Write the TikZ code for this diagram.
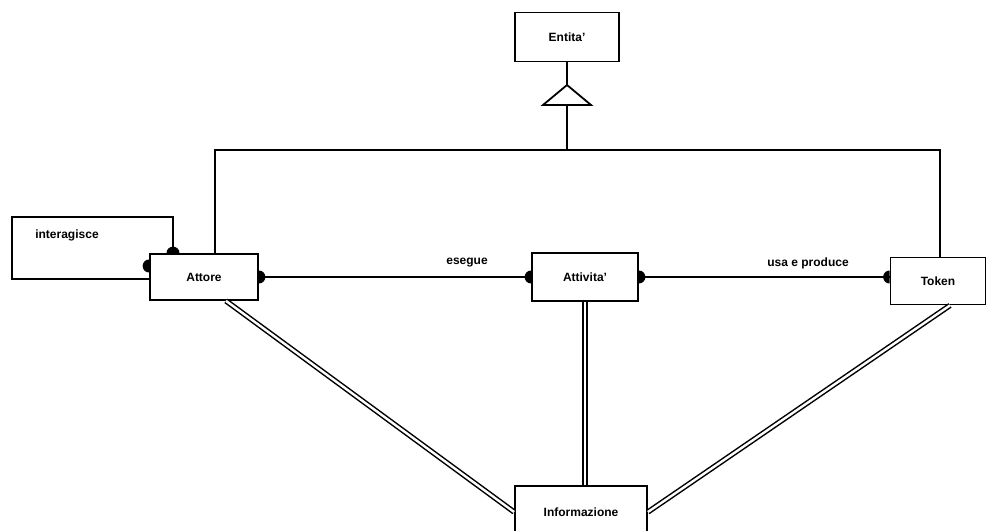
\documentclass[tikz,border=0pt]{standalone}
\usepackage{fontspec}
\setmainfont{Liberation Sans}
\usetikzlibrary{calc}
\begin{document}
\begin{tikzpicture}[x=1pt,y=-1pt,
  entity/.style={draw,line width=1.8pt,fill=white,rectangle,inner sep=0pt,
    font=\fontsize{12}{14}\selectfont\bfseries},
  link/.style={line width=1.8pt},
  dbl/.style={line width=1.5pt,double,double distance=2.4pt},
  lbl/.style={font=\fontsize{12}{14}\selectfont\bfseries,inner sep=0pt},
  dotr/.store in=\dotr, dotr=6.5pt]
\useasboundingbox (0,0) rectangle (987,530);

% entities
\node[entity,minimum width=104pt,minimum height=49pt] (entita) at (567,37) {Entita'};
\node[entity,minimum width=108pt,minimum height=46pt] (attore) at (204,277) {Attore};
\node[entity,minimum width=106pt,minimum height=48pt] (attivita) at (585,277) {Attivita'};
\node[entity,minimum width=95pt,minimum height=47pt] (token) at (938,281) {Token};
\node[entity,minimum width=132pt,minimum height=60pt] (informazione) at (581,516) {};
\node[lbl] (infotxt) at (581,512) {Informazione};

% generalisation triangle and hierarchy bus
\coordinate (apex) at (567,85);
\coordinate (basel) at (543,105);
\coordinate (baser) at (591,105);
\coordinate (basec) at (567,105);
\coordinate (busl) at (215,150);
\coordinate (busr) at (940,150);
\coordinate (busc) at (567,150);
\draw[link] (entita.south) -- (apex);
\draw[link,line join=miter] (apex) -- (basel) -- (baser) -- cycle;
\draw[link] (basec) -- (busc);
\draw[link] (attore.north -| busl) -- (busl) -- (busr) -- (token.north -| busr);

% self relationship of Attore
\coordinate (loopa) at (173,217);
\coordinate (loopb) at (12,217);
\coordinate (loopc) at (12,279);
\draw[link] (attore.north -| loopa) -- (loopa) -- (loopb) -- (loopc) -- (attore.west |- loopc);
\node[lbl] (interagisce) at (67,235) {interagisce};
\fill (attore.north -| loopa) ++(-6.5,0) arc[start angle=180,end angle=0,radius=6.5pt] -- cycle;
\fill (attore.west |- loopc) ++(0,-6.5) arc[start angle=-90,end angle=-270,radius=6.5pt] -- cycle;

% relationships between entities
\draw[link] (attore.east) -- (attivita.west);
\node[lbl] (esegue) at (467,263) {esegue};
\fill (attore.east) ++(0,-6.5) arc[start angle=90,end angle=-90,radius=6.5pt] -- cycle;
\fill (attivita.west) ++(0,-6.5) arc[start angle=90,end angle=270,radius=6.5pt] -- cycle;

\draw[link] (attivita.east) -- (token.west |- attivita.east);
\node[lbl] (usa) at (808,263) {usa e produce};
\fill (attivita.east) ++(0,-6.5) arc[start angle=90,end angle=-90,radius=6.5pt] -- cycle;
\fill (token.west |- attivita.east) ++(0,-6.5) arc[start angle=90,end angle=270,radius=6.5pt] -- cycle;

% links to Informazione
\draw[dbl] ($(attore.south)+(22,0)$) -- (informazione.west |- infotxt);
\draw[dbl] (attivita.south) -- (informazione.north -| attivita.south);
\draw[dbl] ($(token.south)+(12,0)$) -- (informazione.east |- infotxt);
\end{tikzpicture}
\end{document}
